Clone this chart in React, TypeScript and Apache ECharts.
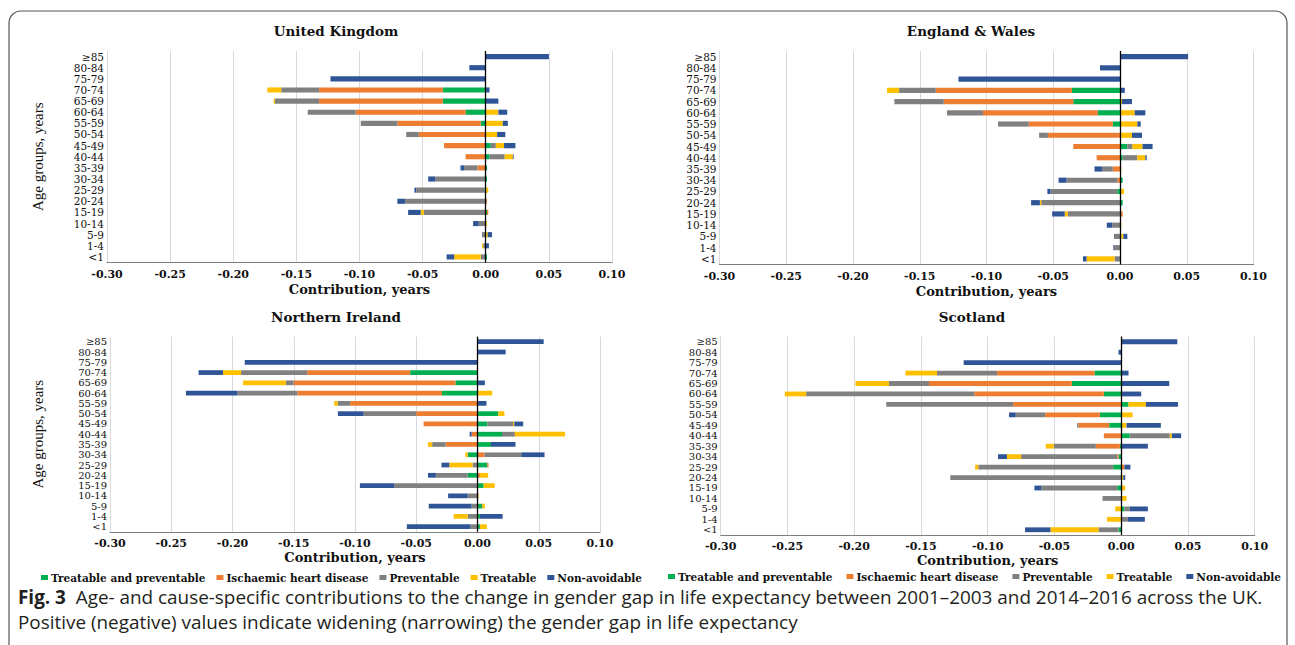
import React, { useEffect, useRef } from 'react';
import * as echarts from 'echarts';

// ---------- data ----------
const AGE_GROUPS = ['≥85', '80-84', '75-79', '70-74', '65-69', '60-64', '55-59', '50-54', '45-49', '40-44', '35-39', '30-34', '25-29', '20-24', '15-19', '10-14', '5-9', '1-4', '<1'];
const CAUSES = ['Treatable and preventable', 'Ischaemic heart disease', 'Preventable', 'Treatable', 'Non-avoidable'];
const X_MIN = -0.3;
const X_MAX = 0.1;
const X_STEP = 0.05;

// United Kingdom
const UK_TREATABLE_PREVENTABLE = [0, 0, 0, -0.034, -0.034, -0.016, -0.004, 0, 0.004, 0.003, 0.001, 0.001, -0.001, 0, 0.001, 0, 0, 0, 0.001];
const UK_IHD = [0, 0, 0, -0.098, -0.098, -0.087, -0.066, -0.053, -0.033, -0.016, -0.0065, 0, 0, 0.001, 0.001, 0, 0, 0, 0];
const UK_PREVENTABLE = [0, 0, 0, -0.030, -0.035, -0.038, -0.029, -0.010, 0.004, 0.012, -0.0105, -0.040, -0.054, -0.064, -0.049, -0.0055, -0.003, -0.002, -0.004];
const UK_TREATABLE = [0, 0, 0, -0.011, -0.001, 0.010, 0.0135, 0.009, 0.0065, 0.0065, 0, 0, 0.002, 0, -0.0025, 0.001, 0.0015, -0.001, -0.021];
const UK_NON_AVOIDABLE = [0.050, -0.013, -0.123, 0.003, 0.010, 0.007, 0.004, 0.0065, 0.009, 0.0006, -0.003, -0.0056, -0.0015, -0.006, -0.010, -0.0045, 0.0035, 0.0025, -0.006];

// England & Wales
const EW_TREATABLE_PREVENTABLE = [0, 0, 0, -0.036, -0.035, -0.0166, -0.0054, 0, 0.0054, 0.002, 0, 0.002, -0.002, 0.002, 0, 0, 0.001, 0, 0];
const EW_IHD = [0, 0, 0, -0.102, -0.097, -0.086, -0.063, -0.054, -0.035, -0.0175, -0.0054, -0.002, 0, 0, 0.002, 0, 0, 0, 0];
const EW_PREVENTABLE = [0, 0, 0, -0.0275, -0.037, -0.027, -0.023, -0.0066, 0.004, 0.011, -0.008, -0.038, -0.050, -0.059, -0.039, -0.0057, -0.0045, -0.0045, -0.004];
const EW_TREATABLE = [0, 0, 0, -0.009, 0.0015, 0.011, 0.013, 0.009, 0.0075, 0.006, 0.001, 0, 0.003, -0.001, -0.0024, 0.001, 0.0015, 0, -0.021];
const EW_NON_AVOIDABLE = [0.051, -0.015, -0.121, 0.0036, 0.0075, 0.008, 0.0025, 0.0075, 0.0075, 0.001, -0.0057, -0.006, -0.0024, -0.0066, -0.0094, -0.0042, 0.003, -0.0005, -0.0027];

// Northern Ireland
const NI_TREATABLE_PREVENTABLE = [0, 0, 0, -0.055, -0.018, -0.029, 0, 0.017, 0.008, 0.020, 0.011, -0.008, 0.008, -0.008, 0.005, 0, 0.004, 0.002, 0.002];
const NI_IHD = [0, 0, 0, -0.084, -0.132, -0.118, -0.104, -0.050, -0.044, -0.0048, -0.026, 0.0057, 0.001, 0.002, 0, 0, 0, 0, 0];
const NI_PREVENTABLE = [0, 0, 0, -0.054, -0.0064, -0.049, -0.010, -0.043, 0.021, 0.0105, -0.011, 0.030, -0.004, -0.026, -0.068, -0.008, -0.0048, -0.008, -0.0057];
const NI_TREATABLE = [0, 0, 0, -0.0147, -0.035, 0.012, -0.003, 0.005, 0.001, 0.041, -0.0035, -0.002, -0.019, 0.0067, 0.009, 0.001, 0.002, -0.0115, 0.0057];
const NI_NON_AVOIDABLE = [0.054, 0.023, -0.190, -0.020, 0.006, -0.042, 0.0073, -0.021, 0.0073, -0.0016, 0.020, 0.019, -0.0064, -0.0064, -0.028, -0.016, -0.035, 0.0185, -0.052];

// Scotland
const SC_TREATABLE_PREVENTABLE = [0, 0, 0, -0.020, -0.037, -0.013, 0.0055, -0.016, -0.009, 0.0064, -0.001, -0.002, -0.006, 0, -0.003, 0, 0.0024, 0, -0.002];
const SC_IHD = [0, 0, 0, -0.073, -0.107, -0.097, -0.081, -0.041, -0.023, -0.013, -0.018, -0.001, 0.0024, 0, 0, 0, 0, 0, 0];
const SC_PREVENTABLE = [0, 0, 0, -0.045, -0.030, -0.126, -0.095, -0.022, -0.001, 0.030, -0.0315, -0.072, -0.101, -0.128, -0.057, -0.014, 0.004, 0.005, -0.015];
const SC_TREATABLE = [0, 0, 0, -0.0236, -0.025, -0.016, 0.013, 0.0085, 0.004, 0.0015, -0.006, -0.0106, -0.0024, 0.0015, 0.003, 0.004, -0.0045, -0.0106, -0.036];
const SC_NON_AVOIDABLE = [0.042, -0.002, -0.118, 0.0055, 0.036, 0.015, 0.024, -0.005, 0.0257, 0.007, 0.020, -0.0067, 0.0045, 0.0015, -0.005, 0, 0.0136, 0.0127, -0.019];

// ---------- styling / layout ----------
const COLORS = ['#00B050', '#ED7D31', '#808080', '#FFC000', '#2F5597'];
const SERIF = "'DejaVu Serif', serif";
const CAPTION_FONT = "'Open Sans', Roboto, sans-serif";
const CAPTION_SIZE = 18.9;

const PANELS = [
  { title: 'United Kingdom', series: [UK_TREATABLE_PREVENTABLE, UK_IHD, UK_PREVENTABLE, UK_TREATABLE, UK_NON_AVOIDABLE],
    left: 107, top: 51, width: 505, height: 211.5, titleX: 336, titleY: 31, yName: true, yNameGap: 62, xNameGap: 20, labelSize: 10.5 },
  { title: 'England & Wales', series: [EW_TREATABLE_PREVENTABLE, EW_IHD, EW_PREVENTABLE, EW_TREATABLE, EW_NON_AVOIDABLE],
    left: 719.5, top: 51, width: 534, height: 213.5, titleX: 971, titleY: 31, yName: false, yNameGap: 0, xNameGap: 20, labelSize: 10.5 },
  { title: 'Northern Ireland', series: [NI_TREATABLE_PREVENTABLE, NI_IHD, NI_PREVENTABLE, NI_TREATABLE, NI_NON_AVOIDABLE],
    left: 110, top: 336.6, width: 490, height: 195.2, titleX: 336, titleY: 317, yName: true, yNameGap: 65, xNameGap: 19, labelSize: 10 },
  { title: 'Scotland', series: [SC_TREATABLE_PREVENTABLE, SC_IHD, SC_PREVENTABLE, SC_TREATABLE, SC_NON_AVOIDABLE],
    left: 720.7, top: 336.5, width: 534, height: 198.5, titleX: 972, titleY: 317, yName: false, yNameGap: 0, xNameGap: 19, labelSize: 10 },
];

function buildOption() {
  const grid = PANELS.map((p) => ({ left: p.left, top: p.top, width: p.width, height: p.height }));
  const xAxis = PANELS.map((p, i) => ({
    gridIndex: i,
    type: 'value',
    min: X_MIN,
    max: X_MAX,
    interval: X_STEP,
    name: 'Contribution, years',
    nameLocation: 'middle',
    nameGap: p.xNameGap,
    nameTextStyle: { fontFamily: SERIF, fontSize: 13, fontWeight: 'bold', color: '#111' },
    axisLine: { show: true, lineStyle: { color: '#7f7f7f', width: 1.2 } },
    axisTick: { show: false },
    splitLine: { show: true, lineStyle: { color: '#d9d9d9', width: 1 } },
    axisLabel: {
      fontFamily: SERIF, fontSize: 11, fontWeight: 'bold', color: '#111', margin: 6,
      formatter: (v: number) => v.toFixed(2),
    },
  }));
  const yAxis = PANELS.map((p, i) => ({
    gridIndex: i,
    type: 'category',
    data: AGE_GROUPS,
    inverse: true,
    name: p.yName ? 'Age groups, years' : '',
    nameLocation: 'middle',
    nameRotate: 90,
    nameGap: p.yNameGap,
    nameTextStyle: { fontFamily: "'Liberation Serif', serif", fontSize: 15, color: '#111' },
    axisLine: { show: false },
    axisTick: { show: false },
    splitLine: { show: false },
    axisLabel: { fontFamily: SERIF, fontSize: p.labelSize, color: '#111', margin: 3, interval: 0 },
  }));
  const series: any[] = [];
  PANELS.forEach((p, i) => {
    CAUSES.forEach((name, j) => {
      const s: any = {
        type: 'bar',
        name,
        xAxisIndex: i,
        yAxisIndex: i,
        stack: 'panel' + i,
        data: p.series[j],
        barWidth: '46%',
        itemStyle: { color: COLORS[j] },
      };
      if (j === 0) {
        s.markLine = {
          silent: true,
          symbol: ['none', 'none'],
          label: { show: false },
          lineStyle: { color: '#000', width: 1.3, type: 'solid' },
          data: [{ xAxis: 0 }],
        };
      }
      series.push(s);
    });
  });
  const legendBase = {
    data: CAUSES,
    icon: 'rect',
    itemWidth: 7,
    itemHeight: 5,
    selectedMode: false,
    textStyle: { fontFamily: SERIF, fontSize: 10.5, fontWeight: 'bold', color: '#111', padding: [0, 0, 0, -2] },
  };
  const legend = [
    { ...legendBase, itemGap: 11, left: 36, top: 567 },
    { ...legendBase, itemGap: 14, left: 663, top: 566 },
  ];
  const graphic: any[] = [
    {
      type: 'rect',
      shape: { x: 9, y: 11, width: 1278, height: 650, r: 12 },
      style: { fill: 'none', stroke: '#555', lineWidth: 1.2 },
      silent: true,
    },
    ...PANELS.map((p) => ({
      type: 'text',
      x: p.titleX,
      y: p.titleY,
      style: {
        text: p.title, fill: '#111', font: `bold 13.5px ${SERIF}`,
        textAlign: 'center', textVerticalAlign: 'middle',
      },
    })),
    {
      type: 'text',
      x: 18,
      y: 597,
      style: {
        text: '{b|Fig. 3}  Age- and cause-specific contributions to the change in gender gap in life expectancy between 2001–2003 and 2014–2016 across the UK.',
        rich: { b: { fontWeight: 'bold', fontFamily: CAPTION_FONT, fontSize: CAPTION_SIZE, fill: '#231f20' } },
        fontFamily: CAPTION_FONT,
        fontSize: CAPTION_SIZE,
        fill: '#231f20',
        textVerticalAlign: 'middle',
      },
    },
    {
      type: 'text',
      x: 18,
      y: 622,
      style: {
        text: 'Positive (negative) values indicate widening (narrowing) the gender gap in life expectancy',
        fontFamily: CAPTION_FONT,
        fontSize: CAPTION_SIZE,
        fill: '#231f20',
        textVerticalAlign: 'middle',
      },
    },
  ];
  return {
    animation: false,
    backgroundColor: '#fff',
    grid,
    xAxis,
    yAxis,
    series,
    legend,
    graphic,
  };
}

export default function App() {
  const ref = useRef<HTMLDivElement>(null);
  useEffect(() => {
    if (!ref.current) return;
    const chart = echarts.init(ref.current, undefined, { renderer: 'svg' });
    chart.setOption(buildOption() as any);
    return () => chart.dispose();
  }, []);
  return (
    <div
      ref={ref}
      style={{ position: 'absolute', left: 0, top: 0, width: 1295, height: 645, background: '#fff' }}
    />
  );
}
